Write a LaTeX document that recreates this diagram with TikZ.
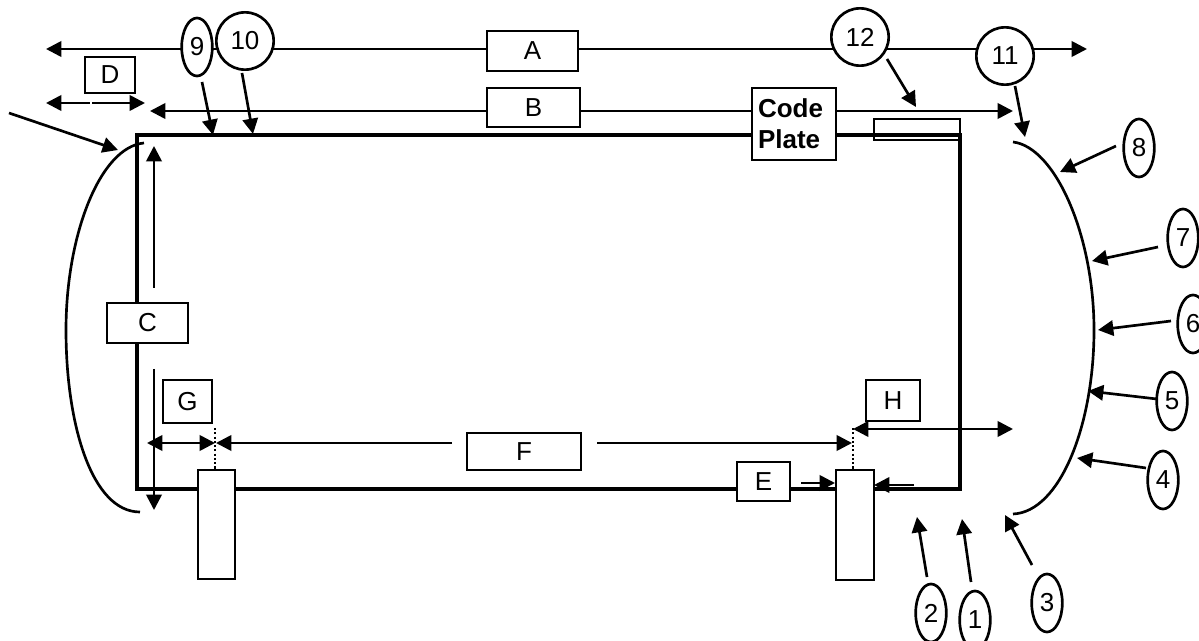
\documentclass[tikz,border=0pt]{standalone}
\usepackage{fontspec}
\setmainfont{Liberation Sans}
\usetikzlibrary{arrows.meta,shapes.geometric}
\tikzset{
  x=0.75pt,y=-0.75pt,
  lab/.style={font=\fontsize{19.5}{23}\selectfont},
  boxn/.style={lab,draw=black,fill=white,line width=2pt,inner sep=0pt,rectangle},
  post/.style={draw=black,fill=white,line width=2pt,inner sep=0pt,rectangle},
  num/.style={lab,draw=black,fill=white,line width=2pt,inner sep=0pt,ellipse,minimum width=23pt,minimum height=43.5pt},
  numc/.style={lab,draw=black,fill=white,line width=2pt,inner sep=0pt,circle,minimum size=43pt},
  tipf/.tip={Triangle[length=11.5pt,width=11.5pt]},
  arr/.style={line width=2pt,-{tipf}},
  darr/.style={line width=2pt,{tipf}-{tipf}},
  arc/.style={line width=2pt},
  dots/.style={line width=2pt,dash pattern=on 1.6pt off 1.6pt},
}
\newcommand{\bx}[7][boxn]{\node[#1,minimum width=#6*0.75pt,minimum height=#7*0.75pt] (#2) at (#3,#4) {#5};}
\begin{document}
\begin{tikzpicture}
\clip (0,0) rectangle (1199,641);
\fill[white] (0,0) rectangle (1199,641);

% main frame
\node[draw=black,line width=2.3pt,inner sep=0pt,minimum width=823*0.75pt,minimum height=354*0.75pt] (main) at (548.5,312) {};

% free ends
\coordinate (Al) at (46,49);
\coordinate (Ar) at (1087,49);
\coordinate (Bl) at (150,111);
\coordinate (Br) at (1013,111);
\coordinate (Dl) at (46,103);
\coordinate (Dr) at (145,103);
\coordinate (Dm) at (89.5,103);
\coordinate (Dn) at (92,103);
\coordinate (Ct) at (154,146);
\coordinate (Cb) at (154,510);
\coordinate (Cu) at (154,288);
\coordinate (Cd) at (154,369);
\coordinate (Gl) at (147,443);
\coordinate (Gr) at (215,443);
\coordinate (Fl) at (216,443);
\coordinate (Fa) at (452,443);
\coordinate (Fb) at (597,443);
\coordinate (Fr) at (852,443);
\coordinate (Hl) at (853,429);
\coordinate (Hr) at (1013,429);
\coordinate (La) at (144,143);
\coordinate (Lm) at (66,330);
\coordinate (Lb) at (140,512);
\coordinate (Ra) at (1013,142);
\coordinate (Rm) at (1094,330);
\coordinate (Rb) at (1013,514);
\coordinate (Ea) at (801,483);
\coordinate (Eb) at (835,483);
\coordinate (Pa) at (914,485);
\coordinate (Pb) at (874,485);
\coordinate (Ts) at (9,113);
\coordinate (Tt) at (118,150);

% long lines
\draw[darr] (Al) -- (Ar);
\draw[darr] (Bl) -- (Br);
\draw[arr] (Dm) -- (Dl);
\draw[arr] (Dn) -- (Dr);
\draw[arr] (Cu) -- (Ct);
\draw[arr] (Cd) -- (Cb);
\draw[darr] (Gl) -- (Gr);
\draw[arr] (Fa) -- (Fl);
\draw[arr] (Fb) -- (Fr);
\draw[darr] (Hl) -- (Hr);

% side arcs
\draw[arc] (La) .. controls (100,147) and (66,235) .. (Lm) .. controls (66,425) and (92,512) .. (Lb);
\draw[arc] (Ra) .. controls (1055,147) and (1094,235) .. (Rm) .. controls (1094,425) and (1060,512) .. (Rb);

% posts and dotted marks
\coordinate (Ld) at (215,428);
\coordinate (Rd) at (853,428);
\node[post,minimum width=37*0.75pt,minimum height=109*0.75pt] (pl) at (216.5,524.5) {};
\node[post,minimum width=38*0.75pt,minimum height=110*0.75pt] (pr) at (855,525) {};
\draw[dots] (Ld) -- (pl.north -| Ld);
\draw[dots] (Rd) -- (pr.north -| Rd);

% boxes
\bx{a}{532.5}{51}{A}{91}{40}
\bx{b}{533.5}{107.5}{B}{93}{39}
\bx{c}{147.5}{323}{C}{81}{40}
\bx{d}{110}{75}{D}{50}{36}
\bx{e}{763.5}{481.5}{E}{53}{39}
\bx{f}{524}{451.5}{F}{114}{37}
\bx{g}{187.5}{401.5}{G}{49}{43}
\bx{h}{893}{400.5}{H}{54}{41}
\node[boxn,font=\fontsize{19.5}{23}\selectfont\bfseries,align=left,minimum width=84*0.75pt,minimum height=72*0.75pt,text width=72*0.75pt] (code) at (794,124) {Code\\Plate};
\node[draw=black,line width=2pt,inner sep=0pt,minimum width=86*0.75pt,minimum height=21*0.75pt] (plate) at (917,129.5) {};

% short E and post arrows
\draw[arr] (Ea) -- (Eb);
\draw[arr] (Pa) -- (Pb);

% numbered labels
\node[num] (n1) at (975,620) {1};
\node[num] (n2) at (931,613) {2};
\node[num] (n3) at (1047,603) {3};
\node[num] (n4) at (1163,480) {4};
\node[num] (n5) at (1172,401) {5};
\node[num] (n6) at (1193,324) {6};
\node[num] (n7) at (1183,238) {7};
\node[num] (n8) at (1139,148) {8};
\node[num] (n9) at (197,47) {9};
\node[numc] (n10) at (245,41) {10};
\node[numc] (n11) at (1005,56) {11};
\node[numc] (n12) at (860,37) {12};

% pointers
\coordinate (t1) at (962,519);
\coordinate (t2) at (917,517);
\coordinate (t3) at (1005,515);
\coordinate (t4) at (1077,458);
\coordinate (t5) at (1088,391);
\coordinate (t6) at (1098,330);
\coordinate (t7) at (1092,261);
\coordinate (t8) at (1060,172);
\coordinate (t9) at (213,135);
\coordinate (t10) at (253,134);
\coordinate (t11) at (1025,137);
\coordinate (t12) at (916,107);
\draw[arr] ([shift={(-4,-38)}]n1.center) -- (t1);
\draw[arr] ([shift={(-4,-36)}]n2.center) -- (t2);
\draw[arr] ([shift={(-15,-38)}]n3.center) -- (t3);
\draw[arr] ([shift={(-17,-12)}]n4.center) -- (t4);
\draw[arr] ([shift={(-15,-2)}]n5.center) -- (t5);
\draw[arr] ([shift={(-22,-3)}]n6.center) -- (t6);
\draw[arr] ([shift={(-25,9)}]n7.center) -- (t7);
\draw[arr] ([shift={(-23,-2)}]n8.center) -- (t8);
\draw[arr] ([shift={(5,35)}]n9.center) -- (t9);
\draw[arr] ([shift={(-3,32)}]n10.center) -- (t10);
\draw[arr] ([shift={(10,30)}]n11.center) -- (t11);
\draw[arr] ([shift={(27,22)}]n12.center) -- (t12);
\draw[arr] (Ts) -- (Tt);
\end{tikzpicture}
\end{document}
